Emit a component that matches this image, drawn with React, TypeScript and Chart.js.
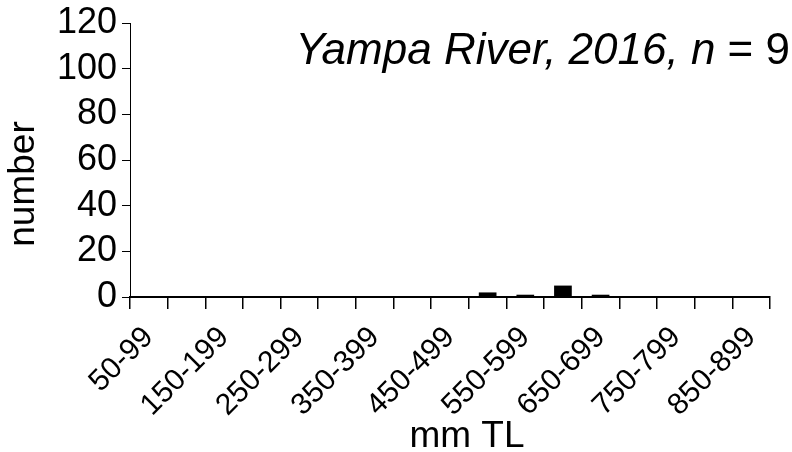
import React, { useEffect, useRef } from 'react';
import { Chart, registerables } from 'chart.js';

Chart.register(...registerables);

const categories = [
  '50-99', '100-149', '150-199', '200-249', '250-299', '300-349', '350-399',
  '400-449', '450-499', '500-549', '550-599', '600-649', '650-699', '700-749',
  '750-799', '800-849', '850-899',
];
const counts = [0, 0, 0, 0, 0, 0, 0, 0, 0, 2, 1, 5, 1, 0, 0, 0, 0];
const yMin = 0;
const yMax = 120;
const yStep = 20;
const titleItalic = 'Yampa River, 2016, n';
const titleUpright = ' = 9';
const xAxisTitle = 'mm TL';
const yAxisTitle = 'number';

const FONT = "'Liberation Sans', Arial, sans-serif";

const textPlugin = {
  id: 'customText',
  afterDraw(chart: any) {
    const { ctx, chartArea } = chart;
    ctx.save();
    ctx.fillStyle = '#000';
    ctx.textBaseline = 'alphabetic';
    // Title
    ctx.font = `italic 44px ${FONT}`;
    const w1 = ctx.measureText(titleItalic).width;
    ctx.font = `44px ${FONT}`;
    const w2 = ctx.measureText(titleUpright).width;
    const endX = chartArea.right + 20;
    const baseY = chartArea.top + 41;
    ctx.font = `italic 44px ${FONT}`;
    ctx.textAlign = 'left';
    ctx.fillText(titleItalic, endX - w1 - w2, baseY);
    ctx.font = `44px ${FONT}`;
    ctx.fillText(titleUpright, endX - w2, baseY);
    // X axis title
    ctx.font = `37px ${FONT}`;
    ctx.textAlign = 'center';
    ctx.fillText(xAxisTitle, (chartArea.left + chartArea.right) / 2 + 17, chartArea.bottom + 150);
    // Y axis title
    ctx.translate(24, chartArea.bottom - 113);
    ctx.rotate(-Math.PI / 2);
    ctx.font = `37px ${FONT}`;
    ctx.textAlign = 'center';
    ctx.textBaseline = 'middle';
    ctx.fillText(yAxisTitle, 0, 0);
    ctx.restore();
  },
};

export default function App() {
  const ref = useRef<HTMLCanvasElement | null>(null);
  useEffect(() => {
    document.body.style.margin = '0';
    if (!ref.current) return;
    const chart = new Chart(ref.current, {
      type: 'bar',
      data: {
        labels: categories,
        datasets: [
          {
            data: counts,
            backgroundColor: '#000',
            borderWidth: 0,
            barPercentage: 0.47,
            categoryPercentage: 1,
          },
        ],
      },
      plugins: [textPlugin],
      options: {
        animation: false,
        responsive: true,
        maintainAspectRatio: false,
        layout: { padding: { left: 0, right: 22, top: 3, bottom: 0 } },
        plugins: {
          legend: { display: false },
          tooltip: { enabled: false },
          title: { display: false },
        },
        scales: {
          x: {
            afterFit: (scale: any) => {
              scale.height = 155;
            },
            grid: {
              drawOnChartArea: false,
              offset: true,
              tickLength: 12,
              color: '#000',
              lineWidth: 1.5,
            },
            border: { color: '#000', width: 2 },
            ticks: {
              autoSkip: false,
              maxRotation: 45,
              minRotation: 45,
              padding: 11,
              color: '#000',
              font: { family: FONT, size: 30 },
              callback: (_v: any, i: number) => (i % 2 === 0 ? categories[i] : ''),
            },
            title: { display: false },
          },
          y: {
            min: yMin,
            max: yMax,
            afterFit: (scale: any) => {
              scale.width = 130;
            },
            grid: {
              drawOnChartArea: false,
              tickLength: 8,
              color: '#000',
              lineWidth: 1,
            },
            border: { color: '#000', width: 1 },
            ticks: {
              stepSize: yStep,
              autoSkip: false,
              padding: 5,
              color: '#000',
              font: { family: FONT, size: 36, lineHeight: 1 },
            },
          },
        },
      },
    });
    return () => chart.destroy();
  }, []);
  return (
    <div style={{ position: 'relative', width: 792, height: 452 }}>
      <canvas ref={ref} />
    </div>
  );
}
